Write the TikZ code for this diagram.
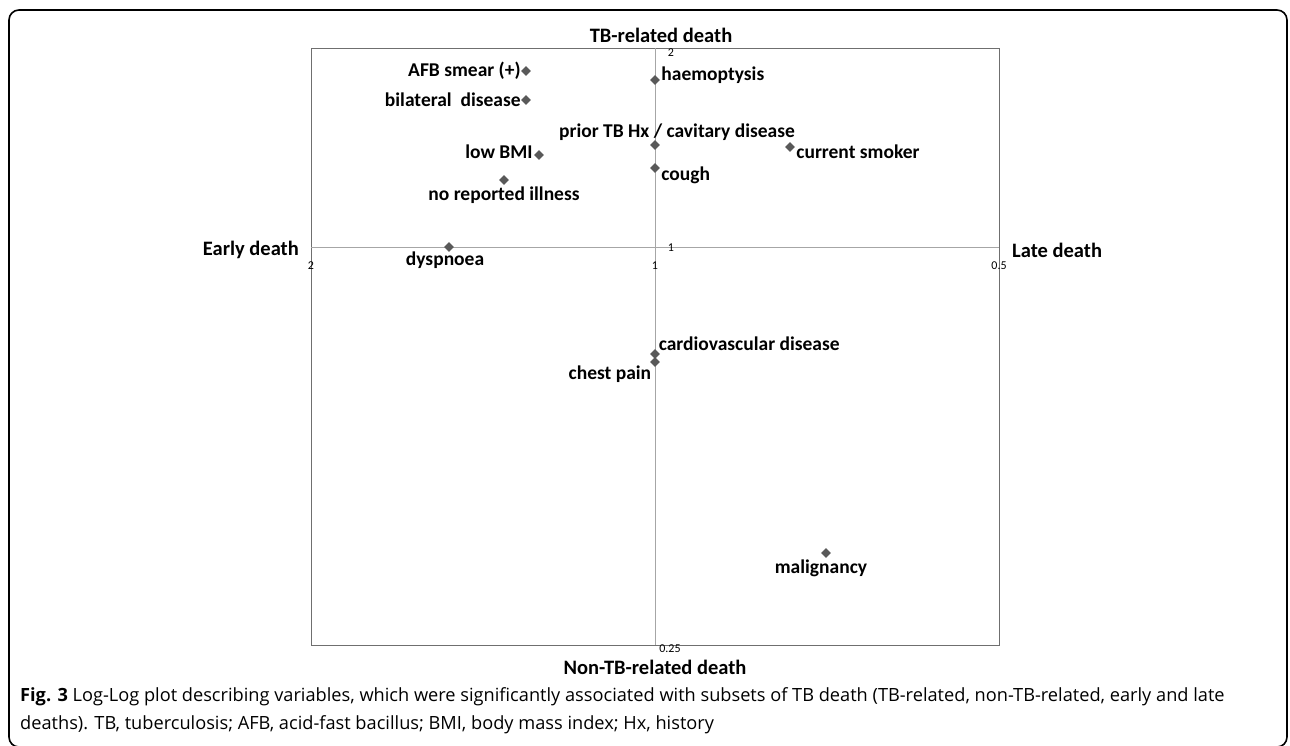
\documentclass[tikz,border=0pt]{standalone}
\usepackage{fontspec}
\setmainfont{Carlito}
\newfontfamily\capfont{Open Sans}
\usetikzlibrary{shapes.geometric,positioning}
\definecolor{pointgray}{HTML}{595959}
\definecolor{axisgray}{HTML}{A6A6A6}
\definecolor{boxgray}{HTML}{6F6F6F}
\tikzset{
  pt/.style={diamond,fill=pointgray,inner sep=0pt,minimum size=10pt},
  lbl/.style={font=\fontsize{19.5}{22}\selectfont\bfseries,inner sep=1pt},
  axtitle/.style={font=\fontsize{20.5}{24}\selectfont\bfseries,inner sep=0pt},
  tick/.style={font=\fontsize{12}{13}\selectfont,inner sep=0pt},
  caption/.style={font=\capfont\fontsize{18.2}{20}\selectfont,inner sep=0pt,anchor=west},
}
\begin{document}
\begin{tikzpicture}[x=1pt,y=-1pt]
  \useasboundingbox (0,0) rectangle (1290,745);
  \begin{scope}
    \clip (0,0) rectangle (1290,745);
    \draw[line width=1.6pt,rounded corners=10pt] (9,10) rectangle (1287,747);
  \end{scope}

  % plot area and axes
  \coordinate (tl) at (311,48);
  \coordinate (br) at (999,645);
  \coordinate (xl) at (311,247);
  \coordinate (xr) at (999,247);
  \coordinate (yt) at (655,48);
  \coordinate (yb) at (655,645);
  \draw[boxgray] (tl) rectangle (br);
  \draw[axisgray] (xl) -- (xr);
  \draw[axisgray] (yt) -- (yb);

  % tick labels
  \node[tick] (t2y)  at (671,53)  {2};
  \node[tick] (t1y)  at (671,248) {1};
  \node[tick] (t1x)  at (655,266) {1};
  \node[tick] (t2x)  at (311,266) {2};
  \node[tick] (t05x) at (999,266) {0.5};
  \node[tick] (t025y) at (670,649) {0.25};

  % quadrant titles
  \node[axtitle] (tbrel)  at (661,35)  {TB-related death};
  \node[axtitle,anchor=east] (early) at (299,250) {Early death};
  \node[axtitle,anchor=west] (late)  at (1012,250) {Late death};
  \node[axtitle] (nontb)  at (655,667) {Non-TB-related death};

  % variables
  \node[pt] (afb)    at (526,71)  {};
  \node[pt] (haem)   at (655,80)  {};
  \node[pt] (bilat)  at (526,100) {};
  \node[pt] (prior)  at (655,145) {};
  \node[pt] (smoker) at (790,147) {};
  \node[pt] (bmi)    at (539,155) {};
  \node[pt] (cough)  at (655,168) {};
  \node[pt] (noill)  at (504,180) {};
  \node[pt] (dysp)   at (449,247) {};
  \node[pt] (cvd)    at (655,354) {};
  \node[pt] (chest)  at (655,362) {};
  \node[pt] (malig)  at (826,553) {};

  \node[lbl,left=-1pt of afb]             (afbl)    {AFB smear (+)};
  \node[lbl,anchor=west] at ([yshift=5pt]haem.east) (haeml) {haemoptysis};
  \node[lbl,left=-1pt of bilat]           (bilatl)  {bilateral\ \ disease};
  \node[lbl,above=-2pt of prior,xshift=22pt] (priorl) {prior TB Hx / cavitary disease};
  \node[lbl,anchor=north west] at ([yshift=3pt]smoker.east) (smokerl) {current smoker};
  \node[lbl,anchor=south east] at ([yshift=-5pt]bmi.west) (bmil) {low BMI};
  \node[lbl,anchor=north west] at ([yshift=2pt]cough.east) (coughl) {cough};
  \node[lbl,below=0pt of noill]           (noilll)  {no reported illness};
  \node[lbl,below=-2pt of dysp,xshift=-4pt] (dyspl) {dyspnoea};
  \node[lbl,anchor=south west] at (cvd.north east) (cvdl) {cardiovascular disease};
  \node[lbl,anchor=north east] at ([yshift=0pt]chest.south west) (chestl) {chest pain};
  \node[lbl,below=0pt of malig,xshift=-5pt] (maligl) {malignancy};

  % caption
  \node[caption] (cap1) at (20,697) {\textbf{Fig. 3} Log-Log plot describing variables, which were significantly associated with subsets of TB death (TB-related, non-TB-related, early and late};
  \node[caption] (cap2) at (20,725) {deaths). TB, tuberculosis; AFB, acid-fast bacillus; BMI, body mass index; Hx, history};
\end{tikzpicture}
\end{document}
